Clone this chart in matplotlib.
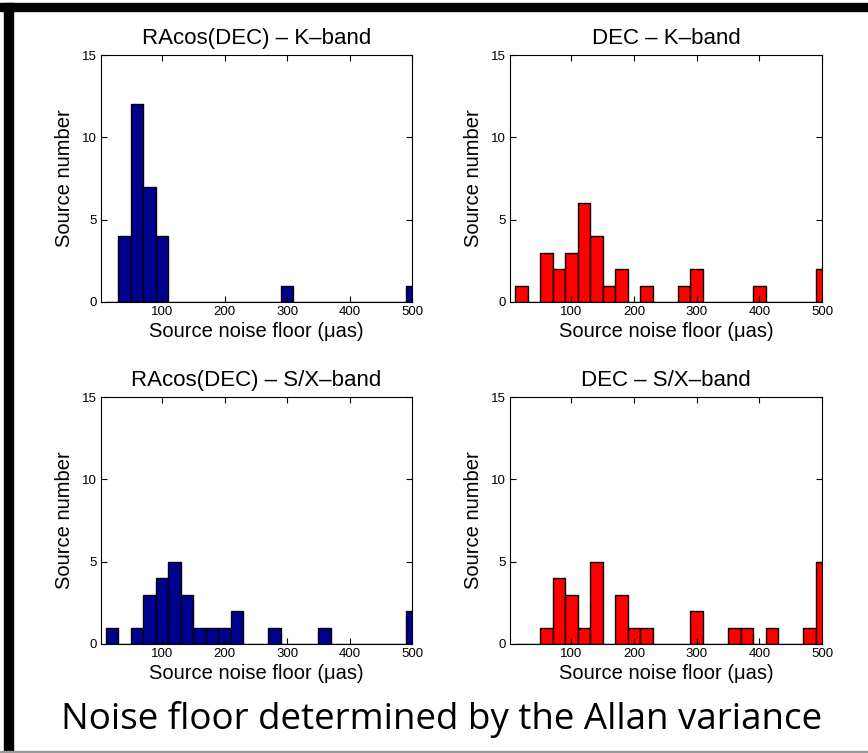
import matplotlib
matplotlib.use("Agg")
import matplotlib.pyplot as plt
from matplotlib.patches import Rectangle

# histogram bins: centres every 20 uas, 25 bins
bin_centers = [20 * (i + 1) for i in range(25)]
bin_width = 20

ra_k = [0, 4, 12, 7, 4, 0, 0, 0, 0, 0, 0, 0, 0, 0, 1, 0, 0, 0, 0, 0, 0, 0, 0, 0, 1]
dec_k = [1, 0, 3, 2, 3, 6, 4, 1, 2, 0, 1, 0, 0, 1, 2, 0, 0, 0, 0, 1, 0, 0, 0, 0, 2]
ra_sx = [1, 0, 1, 3, 4, 5, 3, 1, 1, 1, 2, 0, 0, 1, 0, 0, 0, 1, 0, 0, 0, 0, 0, 0, 2]
dec_sx = [0, 0, 1, 4, 3, 1, 5, 0, 3, 1, 1, 0, 0, 0, 2, 0, 0, 1, 1, 0, 1, 0, 0, 1, 5]

titles = ["RAcos(DEC) \u2013 K\u2013band", "DEC \u2013 K\u2013band",
          "RAcos(DEC) \u2013 S/X\u2013band", "DEC \u2013 S/X\u2013band"]
counts = [ra_k, dec_k, ra_sx, dec_sx]
colors = ["#00008F", "#FF0000", "#00008F", "#FF0000"]

x_ticks = [100, 200, 300, 400, 500]
y_ticks = [0, 5, 10, 15]

W, H = 868, 753
plt.rcParams["font.family"] = ["Liberation Sans", "DejaVu Sans"]

fig = plt.figure(figsize=(W / 100, H / 100), dpi=100)

# axes boxes in pixels: left, top, right, bottom
boxes = [(101, 55, 412, 302), (510, 55, 822, 302),
         (101, 397, 412, 644), (510, 397, 822, 644)]

for box, title, c, col in zip(boxes, titles, counts, colors):
    l, t, r, b = box
    ax = fig.add_axes([l / W, 1 - b / H, (r - l) / W, (b - t) / H])
    ax.bar(bin_centers, c, width=bin_width, color=col, edgecolor="black",
           linewidth=1.0)
    ax.set_xlim(2, 500)
    ax.set_ylim(0, 15)
    ax.set_xticks(x_ticks)
    ax.set_yticks(y_ticks)
    ax.tick_params(direction="in", top=True, right=True, length=4,
                   labelsize=9.5, pad=3)
    ax.set_title(title, fontsize=16, pad=8)
    ax.set_xlabel("Source noise floor (\u03bcas)", fontsize=14.5, labelpad=3)
    ax.set_ylabel("Source number", fontsize=14.5, labelpad=6)
    for s in ax.spines.values():
        s.set_linewidth(0.8)

# slide frame
fig.add_artist(Rectangle((0, 1 - 11 / H), 1, 8 / H, transform=fig.transFigure,
                         color="black"))
fig.add_artist(Rectangle((4 / W, 2 / H), 9 / W, 1 - 5 / H,
                         transform=fig.transFigure, color="black"))
fig.add_artist(Rectangle((0, 1 / H), 1, 1.5 / H, transform=fig.transFigure,
                         color="#999999"))

fig.text(442 / W, 1 - 729 / H, "Noise floor determined by the Allan variance",
         ha="center", va="baseline", fontsize=26.5, family="Open Sans")

fig.savefig("out.png", dpi=100)
